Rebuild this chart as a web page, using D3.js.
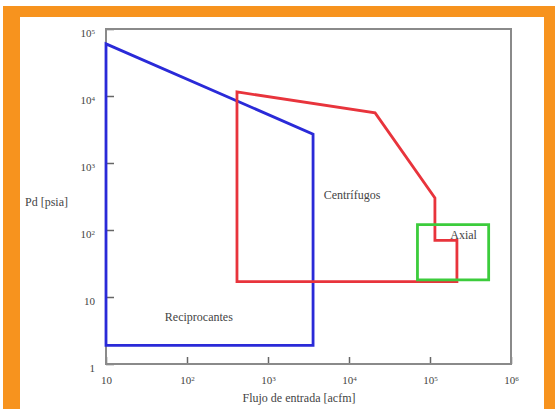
<!DOCTYPE html>
<html><head><meta charset="utf-8">
<script src="https://cdn.jsdelivr.net/npm/d3@7"></script>
<style>
html,body{margin:0;padding:0;background:#fff;}
svg{display:block;}
text{font-family:"Liberation Serif","Times New Roman",serif;fill:#444;}
</style></head>
<body>
<svg id="c" width="555" height="409"></svg>
<script>
// Data (flow in acfm, discharge pressure in psia)
const xTicks = [10, 100, 1000, 10000, 100000, 1000000];
const xTickExp = ["10", "2", "3", "4", "5", "6"];
const yTicks = [1, 10, 100, 1000, 10000, 100000];
const yTickExp = ["1", "10", "2", "3", "4", "5"];
const reciprocantes = [[10, 60000], [3600, 2700], [3600, 1.9], [10, 1.9]];
const centrifugos = [[414, 11500], [21000, 5600], [115000, 300], [115000, 70], [215000, 70], [215000, 17], [414, 17]];
const axial = [[70000, 120], [530000, 120], [530000, 18], [70000, 18]];
const regionLabels = ["Reciprocantes", "Centrífugos", "Axial"];
const labelPos = [[140, 5.0], [10900, 330], [260000, 84]];

const svg = d3.select("#c");
// orange frame
svg.append("rect").attr("x", 3).attr("y", 6).attr("width", 552).attr("height", 403).attr("fill", "#f7931e");
svg.append("rect").attr("x", 20).attr("y", 17).attr("width", 524).attr("height", 392).attr("fill", "#fff");

const L = 106, R = 511, T = 29, B = 364;
const x = d3.scaleLog().domain([10, 1e6]).range([L, R]);
const y = d3.scaleLog().domain([1, 1e5]).range([B, T]);

const g = svg.append("g");

function supLabels(sel, exps, vals) {
  sel.selectAll(".tick text").each(function(d) {
    const i = vals.indexOf(d);
    const t = d3.select(this);
    t.text(null);
    const e = exps[i];
    if (e === "1" || e === "10") { t.append("tspan").text(e); }
    else {
      t.append("tspan").text("10");
      t.append("tspan").attr("dy", "-0.45em").attr("font-size", "7px").text(e);
    }
  });
}

// axes
const ax = g.append("g").attr("transform", `translate(0,${B})`)
  .call(d3.axisBottom(x).tickValues(xTicks).tickSize(-7).tickPadding(12).tickFormat(d => d));
ax.select(".domain").remove();
ax.selectAll(".tick line").attr("stroke", "#666").attr("stroke-width", 1.5);
ax.selectAll(".tick text").attr("font-size", "11px").attr("fill", "#555");
supLabels(ax, xTickExp, xTicks);

const ay = g.append("g").attr("transform", `translate(${L},0)`)
  .call(d3.axisLeft(y).tickValues(yTicks).tickSize(-8).tickPadding(11).tickFormat(d => d));
ay.select(".domain").remove();
ay.selectAll(".tick line").attr("stroke", "#666").attr("stroke-width", 1.5);
ay.selectAll(".tick text").attr("font-size", "11px").attr("fill", "#555").attr("dy", "0.65em");
supLabels(ay, yTickExp, yTicks);

// frame
g.append("rect").attr("x", L).attr("y", T).attr("width", R - L).attr("height", B - T)
  .attr("fill", "none").attr("stroke", "#8a8a8a").attr("stroke-width", 2);

const line = d3.line().x(d => x(d[0])).y(d => y(d[1])).curve(d3.curveLinearClosed);
const shapes = [[reciprocantes, "#2a2ad8"], [centrifugos, "#e8343c"], [axial, "#3ccc3c"]];
shapes.forEach(([data, col]) => {
  g.append("path").attr("d", line(data)).attr("fill", "none").attr("stroke", col).attr("stroke-width", 2.8).attr("stroke-linejoin", "miter");
});

regionLabels.forEach((t, i) => {
  g.append("text").attr("x", x(labelPos[i][0])).attr("y", y(labelPos[i][1])).attr("text-anchor", "middle")
    .attr("dy", "0.35em").attr("font-size", "12px").attr("fill", "#444").text(t);
});

g.append("text").attr("x", 299).attr("y", 402).attr("text-anchor", "middle").attr("font-size", "12px").attr("fill", "#555").text("Flujo de entrada [acfm]");
g.append("text").attr("x", 25).attr("y", 206).attr("text-anchor", "start").attr("font-size", "12px").attr("fill", "#555").text("Pd [psia]");
</script>
</body></html>
